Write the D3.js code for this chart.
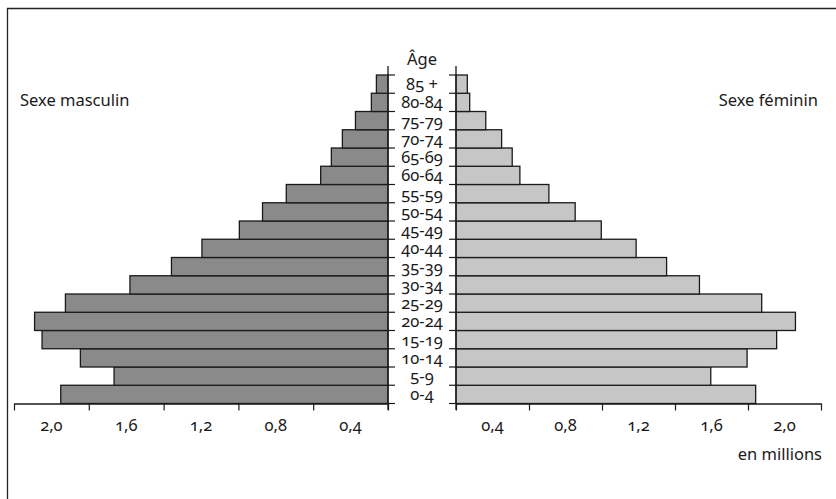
<!DOCTYPE html>
<html><head><meta charset="utf-8">
<script src="https://cdn.jsdelivr.net/npm/d3@7"></script>
<style>
html,body{margin:0;padding:0;background:#fff;}
svg text{font-family:"Noto Sans","Open Sans",sans-serif;font-variant-numeric:oldstyle-nums;fill:#1a1a1a;}
</style></head><body>
<svg id="c" width="836" height="499"></svg>
<script>
const ages = ["0-4","5-9","10-14","15-19","20-24","25-29","30-34","35-39","40-44","45-49","50-54","55-59","60-64","65-69","70-74","75-79","80-84","85 +"];
const male   = [1.75,1.465,1.645,1.85,1.89,1.725,1.38,1.158,0.995,0.795,0.671,0.544,0.36,0.303,0.244,0.174,0.089,0.062];
const female = [1.642,1.396,1.595,1.757,1.86,1.675,1.334,1.154,0.987,0.796,0.653,0.509,0.35,0.308,0.25,0.163,0.075,0.062];
const tickValues = [0,0.4,0.8,1.2,1.6,2.0];
const tickLabels = ["0,4","0,8","1,2","1,6","2,0"];

const svg = d3.select("#c");
const y = d3.scaleBand().domain(ages).range([403.5, 75]).padding(0);
const xL = d3.scaleLinear().domain([0,2]).range([388,14]);
const xR = d3.scaleLinear().domain([0,2]).range([456,821]);
const FS = 16.5;

// frame
svg.append("path").attr("d","M7.5,499V8.5H836").attr("fill","none").attr("stroke","#222").attr("stroke-width",1.3);

// bars
svg.selectAll("rect.m").data(ages).enter().append("rect")
  .attr("x",(d,i)=>xL(male[i])).attr("y",d=>y(d))
  .attr("width",(d,i)=>xL(0)-xL(male[i])).attr("height",y.bandwidth())
  .attr("fill","#8a8a8a").attr("stroke","#1a1a1a").attr("stroke-width",1.3);
svg.selectAll("rect.f").data(ages).enter().append("rect")
  .attr("x",xR(0)).attr("y",d=>y(d))
  .attr("width",(d,i)=>xR(female[i])-xR(0)).attr("height",y.bandwidth())
  .attr("fill","#c6c6c6").attr("stroke","#1a1a1a").attr("stroke-width",1.3);

// center vertical axes
[xL(0), xR(0)].forEach(x=>{
  svg.append("line").attr("x1",x).attr("x2",x).attr("y1",66).attr("y2",410)
    .attr("stroke","#1a1a1a").attr("stroke-width",1.3);
});
// row boundary ticks
const bounds = ages.map(a=>y(a)).concat([y(ages[0])+y.bandwidth()]);
svg.selectAll("line.tl").data(bounds).enter().append("line")
  .attr("x1",xL(0)).attr("x2",xL(0)+7).attr("y1",d=>d).attr("y2",d=>d)
  .attr("stroke","#1a1a1a").attr("stroke-width",1.2);
svg.selectAll("line.tr").data(bounds).enter().append("line")
  .attr("x1",xR(0)-7).attr("x2",xR(0)).attr("y1",d=>d).attr("y2",d=>d)
  .attr("stroke","#1a1a1a").attr("stroke-width",1.2);

// age labels
const cx = (xL(0)+xR(0))/2;
svg.selectAll("text.age").data(ages).enter().append("text")
  .attr("x",cx).attr("y",d=>y(d)+y.bandwidth()/2+6)
  .attr("text-anchor","middle").attr("font-size",FS).text(d=>d);
svg.append("text").attr("x",cx).attr("y",65).attr("text-anchor","middle").attr("font-size",FS).text("Âge");

// bottom axes
const baseY = 403.5;
function drawAxis(scale){
  const g = svg.append("g").attr("transform",`translate(0,${baseY})`)
    .call(d3.axisBottom(scale).tickValues(tickValues).tickFormat("").tickSize(7).tickSizeOuter(0));
  g.select(".domain").attr("stroke","#1a1a1a").attr("stroke-width",1.3);
  g.selectAll(".tick line").attr("stroke","#1a1a1a").attr("stroke-width",1.2);
  svg.selectAll(null).data(tickLabels).enter().append("text")
    .attr("x",(d,i)=>scale(tickValues[i+1]-0.2)).attr("y",431)
    .attr("text-anchor","middle").attr("font-size",FS).text(d=>d);
}
drawAxis(xL);
drawAxis(xR);

// texts
svg.append("text").attr("x",20).attr("y",106).attr("font-size",FS).text("Sexe masculin");
svg.append("text").attr("x",818).attr("y",106).attr("text-anchor","end").attr("font-size",FS).text("Sexe féminin");
svg.append("text").attr("x",822).attr("y",460).attr("text-anchor","end").attr("font-size",FS).text("en millions");
</script>
</body></html>
